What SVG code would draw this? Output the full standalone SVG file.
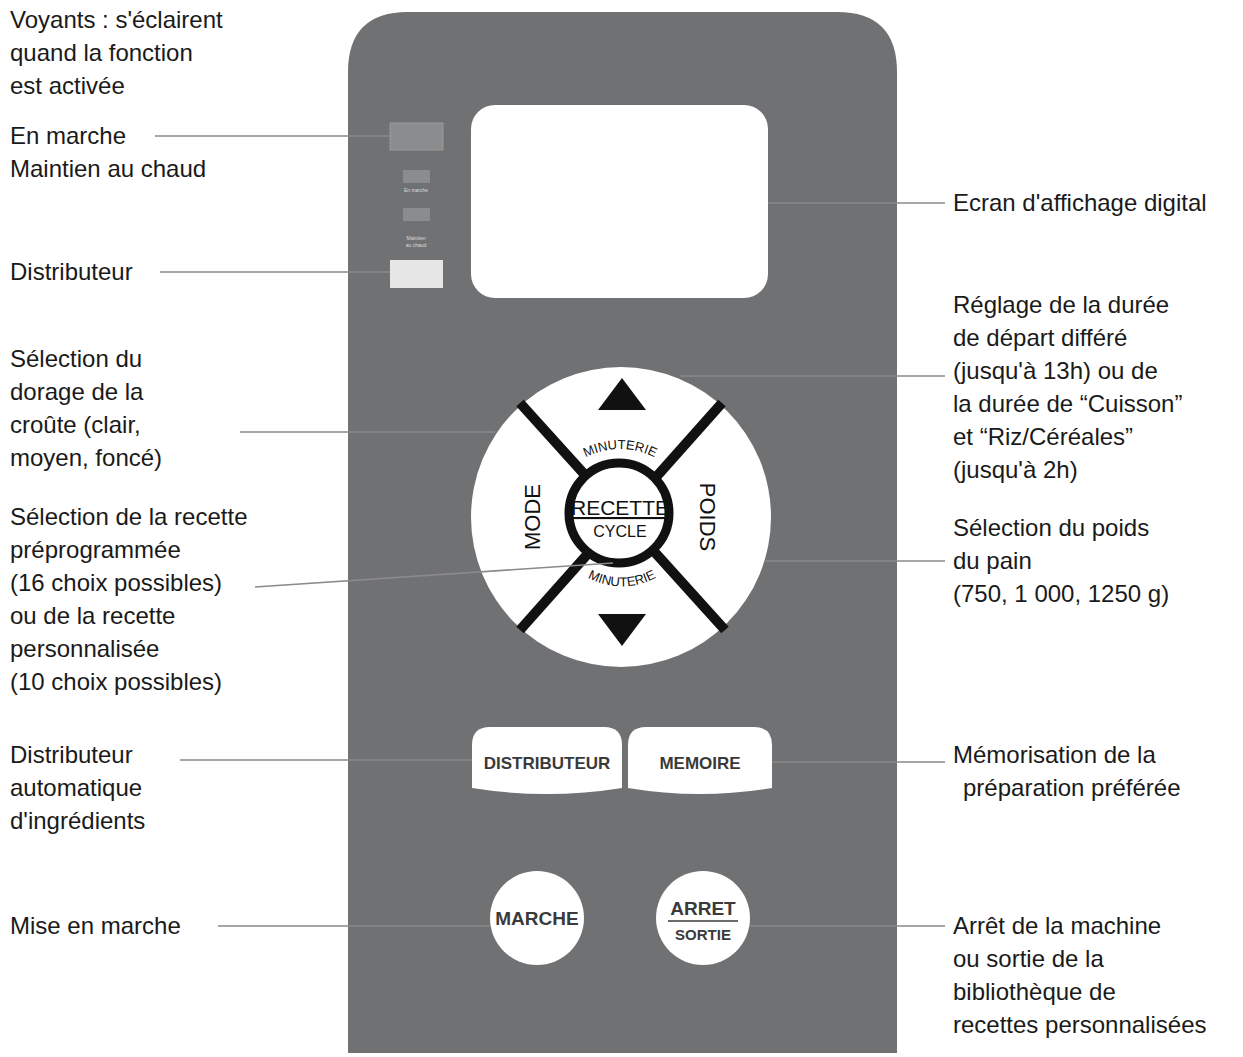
<svg xmlns="http://www.w3.org/2000/svg" width="1243" height="1057" viewBox="0 0 1243 1057">
<style>
.lbl{font-family:"Liberation Sans",Arial,sans-serif;font-size:24px;fill:#1a1a1a}
.ld{stroke:#8a8a8a;stroke-width:1.6;fill:none}
.btn{font-family:"Liberation Sans",Arial,sans-serif;font-weight:bold;fill:#3a3a3a;text-anchor:middle}
.bk{font-family:"Liberation Sans",Arial,sans-serif;fill:#111;text-anchor:middle}
</style>
<defs>
<path id="arcTop" d="M568,470 A75,75 0 0 1 672,470"/>
<path id="arcBot" d="M574,568 A72,72 0 0 0 670,568"/>
</defs>
<rect width="1243" height="1057" fill="#fff"/>
<g id="panel">
<path d="M348,1053 V72 Q348,12 408,12 H837 Q897,12 897,72 V1053 Z" fill="#707173"/>
</g>
<g id="screen"><rect x="471" y="105" width="297" height="193" rx="24" fill="#fff"/></g>
<g id="leds">
<rect x="390" y="123" width="53" height="27" fill="#8b8c8e" stroke="#9a9a9a"/>
<rect x="403" y="170" width="27" height="13" fill="#8b8c8e"/>
<text x="416" y="192" font-family="Liberation Sans,sans-serif" font-size="5" fill="#ddd" text-anchor="middle">En marche</text>
<rect x="403" y="208" width="27" height="13" fill="#8b8c8e"/>
<text x="416" y="240" font-family="Liberation Sans,sans-serif" font-size="5" fill="#ddd" text-anchor="middle">Maintien</text>
<text x="416" y="247" font-family="Liberation Sans,sans-serif" font-size="5" fill="#ddd" text-anchor="middle">au chaud</text>
<rect x="390" y="260" width="53" height="28" fill="#e6e6e6"/>
</g>
<g id="dial">
<circle cx="621" cy="517" r="150" fill="#fff"/>
<line x1="520" y1="403" x2="725" y2="630" stroke="#111" stroke-width="10"/>
<line x1="722" y1="403" x2="520" y2="630" stroke="#111" stroke-width="10"/>
<circle cx="619" cy="513" r="50" fill="#fff" stroke="#111" stroke-width="9"/>
<polygon points="622,378 598,410 646,410" fill="#111"/>
<polygon points="622,646 598,614 646,614" fill="#111"/>
<text class="bk" font-size="13"><textPath href="#arcTop" startOffset="50%">MINUTERIE</textPath></text>
<text class="bk" font-size="13"><textPath href="#arcBot" startOffset="50%">MINUTERIE</textPath></text>
<text class="bk" font-size="22" transform="translate(540,517) rotate(-90)">MODE</text>
<text class="bk" font-size="22" transform="translate(700,517) rotate(90)">POIDS</text>
<text class="bk" font-size="21" x="620" y="515" text-decoration="underline">RECETTE</text>
<line x1="577" y1="518" x2="663" y2="518" stroke="#111" stroke-width="1.5"/>
<text class="bk" font-size="16" x="620" y="537">CYCLE</text>
</g>
<g id="btn-distributeur"><path d="M472,745 Q472,727 490,727 H604 Q622,727 622,745 V788 Q547,800 472,788 Z" fill="#fff"/><text class="btn" x="547" y="769" font-size="17">DISTRIBUTEUR</text></g>
<g id="btn-memoire"><path d="M628,745 Q628,727 646,727 H754 Q772,727 772,745 V788 Q700,800 628,788 Z" fill="#fff"/><text class="btn" x="700" y="769" font-size="17">MEMOIRE</text></g>
<g id="btn-marche"><circle cx="537" cy="918" r="47" fill="#fff"/><text class="btn" x="537" y="925" font-size="19">MARCHE</text></g>
<g id="btn-arret"><circle cx="703" cy="918" r="47" fill="#fff"/><text class="btn" x="703" y="915" font-size="19">ARRET</text><line x1="668" y1="921" x2="738" y2="921" stroke="#3a3a3a" stroke-width="1.5"/><text class="btn" x="703" y="940" font-size="15" font-weight="normal">SORTIE</text></g>
<g id="connectors">
<line class="ld" x1="155" y1="136" x2="390" y2="136"/>
<line class="ld" x1="160" y1="272" x2="390" y2="272"/>
<line class="ld" x1="768" y1="203" x2="945" y2="203"/>
<line class="ld" x1="240" y1="432" x2="495" y2="432"/>
<line class="ld" x1="680" y1="376" x2="945" y2="376"/>
<line class="ld" x1="255" y1="587" x2="613" y2="563"/>
<line class="ld" x1="765" y1="561" x2="945" y2="561"/>
<line class="ld" x1="180" y1="760" x2="472" y2="760"/>
<line class="ld" x1="772" y1="762" x2="945" y2="762"/>
<line class="ld" x1="218" y1="926" x2="490" y2="926"/>
<line class="ld" x1="750" y1="926" x2="945" y2="926"/>
</g>
<g id="labels-left" class="lbl">
<text x="10" y="28">Voyants : s'éclairent</text>
<text x="10" y="61">quand la fonction</text>
<text x="10" y="94">est activée</text>
<text x="10" y="144">En marche</text>
<text x="10" y="177">Maintien au chaud</text>
<text x="10" y="280">Distributeur</text>
<text x="10" y="367">Sélection du</text>
<text x="10" y="400">dorage de la</text>
<text x="10" y="433">croûte (clair,</text>
<text x="10" y="466">moyen, foncé)</text>
<text x="10" y="525">Sélection de la recette</text>
<text x="10" y="558">préprogrammée</text>
<text x="10" y="591">(16 choix possibles)</text>
<text x="10" y="624">ou de la recette</text>
<text x="10" y="657">personnalisée</text>
<text x="10" y="690">(10 choix possibles)</text>
<text x="10" y="763">Distributeur</text>
<text x="10" y="796">automatique</text>
<text x="10" y="829">d'ingrédients</text>
<text x="10" y="934">Mise en marche</text>
</g>
<g id="labels-right" class="lbl">
<text x="953" y="211">Ecran d'affichage digital</text>
<text x="953" y="313">Réglage de la durée</text>
<text x="953" y="346">de départ différé</text>
<text x="953" y="379">(jusqu'à 13h) ou de</text>
<text x="953" y="412">la durée de “Cuisson”</text>
<text x="953" y="445">et “Riz/Céréales”</text>
<text x="953" y="478"> (jusqu'à 2h)</text>
<text x="953" y="536">Sélection du poids</text>
<text x="953" y="569">du pain</text>
<text x="953" y="602">(750, 1 000, 1250 g)</text>
<text x="953" y="763">Mémorisation de la</text>
<text x="963" y="796">préparation préférée</text>
<text x="953" y="934">Arrêt de la machine</text>
<text x="953" y="967">ou sortie de la</text>
<text x="953" y="1000">bibliothèque de</text>
<text x="953" y="1033">recettes personnalisées</text>
</g>
</svg>
